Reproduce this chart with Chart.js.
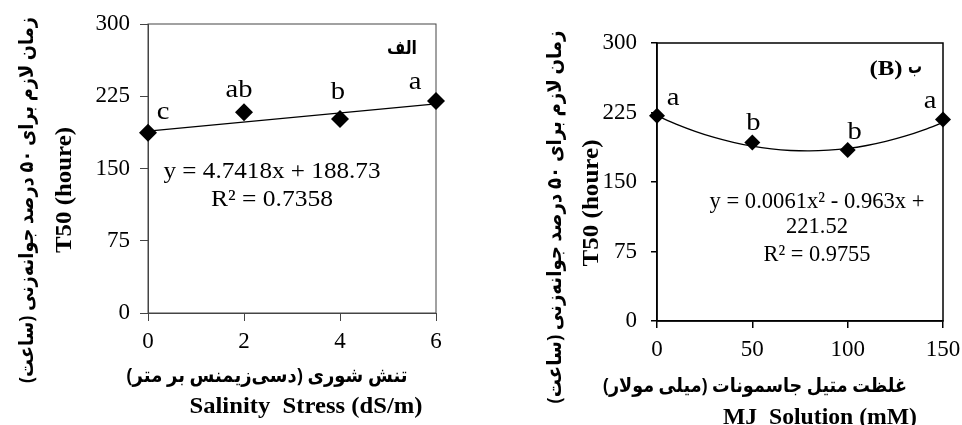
<!DOCTYPE html>
<html>
<head>
<meta charset="utf-8">
<script src="https://cdn.jsdelivr.net/npm/chart.js@4/dist/chart.umd.min.js"></script>
<style>
  html, body { margin: 0; padding: 0; background: #fff; }
  body { width: 962px; height: 425px; position: relative; overflow: hidden; }
  .wrap { position: absolute; top: 0; }
  canvas { display: block; }
</style>
</head>
<body>
<div class="wrap" style="left:0px;"><canvas id="c1" width="480" height="425" style="width:480px;height:425px"></canvas></div>
<div class="wrap" style="left:480px;"><canvas id="c2" width="500" height="425" style="width:500px;height:425px"></canvas></div>
<script>
// ---------- data ----------
const salinityLevels = [0, 2, 4, 6];
const t50Salinity = [187, 208.5, 201.5, 220];
const salinityLetters = ['c', 'ab', 'b', 'a'];
const salinityTrendX = [0, 6];
const salinityTrendY = [188.73, 217.18];
const salinityTicks = [0, 2, 4, 6];

const mjLevels = [0, 50, 100, 150];
const t50MJ = [221.5, 192.5, 184.5, 217.5];
const mjLetters = ['a', 'b', 'b', 'a'];
const mjTrendX = [0, 10, 20, 30, 40, 50, 60, 70, 80, 90, 100, 110, 120, 130, 140, 150];
const mjTrendY = [221.5, 212.5, 204.7, 198.1, 192.8, 188.6, 185.7, 184.0, 183.5, 184.3, 186.2, 189.4, 193.8, 199.4, 206.3, 214.3];
const mjTicks = [0, 50, 100, 150];

const t50Ticks = [0, 75, 150, 225, 300];

// ---------- helpers ----------
function pairs(xs, ys) { return xs.map((x, i) => ({ x: x, y: ys[i] })); }

function drawText(ctx, t) {
  ctx.save();
  ctx.font = t.font;
  ctx.fillStyle = '#000';
  ctx.textAlign = 'center';
  ctx.textBaseline = 'middle';
  ctx.direction = t.rtl ? 'rtl' : 'ltr';
  ctx.translate(t.x, t.y);
  if (t.rot) ctx.rotate(t.rot);
  let sx = t.sx || 1;
  if (t.w) sx = t.w / ctx.measureText(t.text).width;
  ctx.scale(sx, 1);
  ctx.fillText(t.text, 0, 0);
  ctx.restore();
}

const annotPlugin = {
  id: 'annot',
  beforeDatasetsDraw(chart, args, opts) {
    const a = chart.chartArea, ctx = chart.ctx;
    ctx.save();
    ctx.strokeStyle = opts.boxColor;
    ctx.lineWidth = opts.boxWidth;
    ctx.strokeRect(a.left, a.top, a.right - a.left, a.bottom - a.top);
    ctx.restore();
  },
  afterDraw(chart, args, opts) {
    const ctx = chart.ctx;
    const xs = chart.scales.x, ys = chart.scales.y;
    (opts.texts || []).forEach(t => drawText(ctx, t));
    (opts.letters || []).forEach((L, i) => {
      drawText(ctx, {
        text: L,
        font: opts.letterFont,
        sx: opts.letterSx,
        x: xs.getPixelForValue(opts.letterX[i]) + opts.letterOffsets[i][0],
        y: ys.getPixelForValue(opts.letterY[i]) + opts.letterOffsets[i][1]
      });
    });
  }
};

function makeChart(id, c) {
  return new Chart(document.getElementById(id), {
    type: 'scatter',
    data: {
      datasets: [
        {
          type: 'scatter',
          data: pairs(c.px, c.py),
          pointStyle: 'rectRot',
          pointRadius: c.markerR,
          backgroundColor: '#000',
          borderColor: '#000',
          borderWidth: 0,
          clip: false,
          order: 0
        },
        {
          type: 'line',
          data: pairs(c.tx, c.ty),
          borderColor: '#000',
          borderWidth: 1.3,
          pointRadius: 0,
          fill: false,
          tension: c.tension,
          clip: false,
          order: 1
        }
      ]
    },
    options: {
      responsive: false,
      animation: false,
      events: [],
      layout: { padding: { top: c.padTop, right: c.padRight, left: 0, bottom: 0 } },
      plugins: {
        legend: { display: false },
        tooltip: { enabled: false },
        annot: c.annot
      },
      scales: {
        x: {
          type: 'linear',
          min: c.xTicks[0],
          max: c.xTicks[c.xTicks.length - 1],
          afterBuildTicks: s => { s.ticks = c.xTicks.map(v => ({ value: v })); },
          afterFit: s => { s.height = c.xAxisH; },
          grid: { drawOnChartArea: false, drawTicks: true, tickLength: c.xTickLen, color: c.axisColor, lineWidth: c.axisW },
          border: { display: true, color: c.axisColor, width: c.axisW },
          ticks: { color: '#000', font: { family: '"Liberation Serif", serif', size: 23 }, padding: c.xPad, maxRotation: 0 }
        },
        y: {
          type: 'linear',
          min: 0,
          max: 300,
          afterBuildTicks: s => { s.ticks = t50Ticks.map(v => ({ value: v })); },
          afterFit: s => { s.width = c.yAxisW; },
          grid: { drawOnChartArea: false, drawTicks: true, tickLength: c.yTickLen, color: c.axisColor, lineWidth: c.axisW },
          border: { display: true, color: c.axisColor, width: c.axisW },
          ticks: { color: '#000', font: { family: '"Liberation Serif", serif', size: 23 }, padding: c.yPad }
        }
      }
    },
    plugins: [annotPlugin]
  });
}

const SERIF = '"Liberation Serif", "Times New Roman", serif';
const FA = '"Noto Sans", "DejaVu Sans", sans-serif';
const R90 = -Math.PI / 2;

// ---------- left chart (salinity) ----------
makeChart('c1', {
  px: salinityLevels, py: t50Salinity,
  tx: salinityTrendX, ty: salinityTrendY, tension: 0,
  xTicks: salinityTicks,
  markerR: 9,
  padTop: 24, padRight: 44,
  xAxisH: 112, yAxisW: 148,
  xTickLen: 8, yTickLen: 8, xPad: 7, yPad: 10,
  axisColor: '#444', axisW: 1,
  annot: {
    boxColor: '#444', boxWidth: 1,
    letters: salinityLetters, letterX: salinityLevels, letterY: t50Salinity,
    letterFont: '26px ' + SERIF, letterSx: 1.1,
    letterOffsets: [[15, -21], [-5, -22], [-2, -27], [-21, -19]],
    texts: [
      { text: 'y = 4.7418x + 188.73', font: '23px ' + SERIF, x: 272, y: 172, w: 217 },
      { text: 'R² = 0.7358', font: '23px ' + SERIF, x: 272, y: 200, w: 122 },
      { text: 'الف', font: 'bold 19px ' + FA, x: 402, y: 49, w: 30, rtl: true },
      { text: 'تنش شوری (دسی‌زیمنس بر متر)', font: 'bold 20px ' + FA, x: 267, y: 376, w: 281, rtl: true },
      { text: 'Salinity  Stress (dS/m)', font: 'bold 23px ' + SERIF, x: 306, y: 407, w: 233 },
      { text: 'T50 (houre)', font: 'bold 23px ' + SERIF, x: 65, y: 190, w: 126, rot: R90 },
      { text: 'زمان لازم برای ۵۰ درصد جوانه‌زنی (ساعت)', font: 'bold 20px ' + FA, x: 27, y: 200, w: 366, rot: R90, rtl: true }
    ]
  }
});

// ---------- right chart (MJ) ----------
makeChart('c2', {
  px: mjLevels, py: t50MJ,
  tx: mjTrendX, ty: mjTrendY, tension: 0.3,
  xTicks: mjTicks,
  markerR: 8,
  padTop: 43, padRight: 37,
  xAxisH: 104, yAxisW: 177,
  xTickLen: 7, yTickLen: 6, xPad: 8, yPad: 14,
  axisColor: '#000', axisW: 1.5,
  annot: {
    boxColor: '#000', boxWidth: 1.5,
    letters: mjLetters, letterX: mjLevels, letterY: t50MJ,
    letterFont: '26px ' + SERIF, letterSx: 1.1,
    letterOffsets: [[16, -18], [1, -19], [7, -18], [-13, -18]],
    texts: [
      { text: 'y = 0.0061x² - 0.963x +', font: '23px ' + SERIF, x: 337, y: 202, w: 215 },
      { text: '221.52', font: '23px ' + SERIF, x: 337, y: 227, w: 62 },
      { text: 'R² = 0.9755', font: '23px ' + SERIF, x: 337, y: 255, w: 107 },
      { text: '(B)', font: 'bold 21px ' + SERIF, x: 406, y: 70, w: 33 },
      { text: 'ب', font: 'bold 20px ' + FA, x: 435, y: 67, w: 14, rtl: true },
      { text: 'غلظت متیل جاسمونات (میلی مولار)', font: 'bold 20px ' + FA, x: 275, y: 386, w: 304, rtl: true },
      { text: 'MJ  Solution (mM)', font: 'bold 23px ' + SERIF, x: 340, y: 418, w: 194 },
      { text: 'T50 (houre)', font: 'bold 23px ' + SERIF, x: 112, y: 203, w: 127, rot: R90 },
      { text: 'زمان لازم برای ۵۰ درصد جوانه‌زنی (ساعت)', font: 'bold 20px ' + FA, x: 75, y: 217, w: 373, rot: R90, rtl: true }
    ]
  }
});
</script>
</body>
</html>
